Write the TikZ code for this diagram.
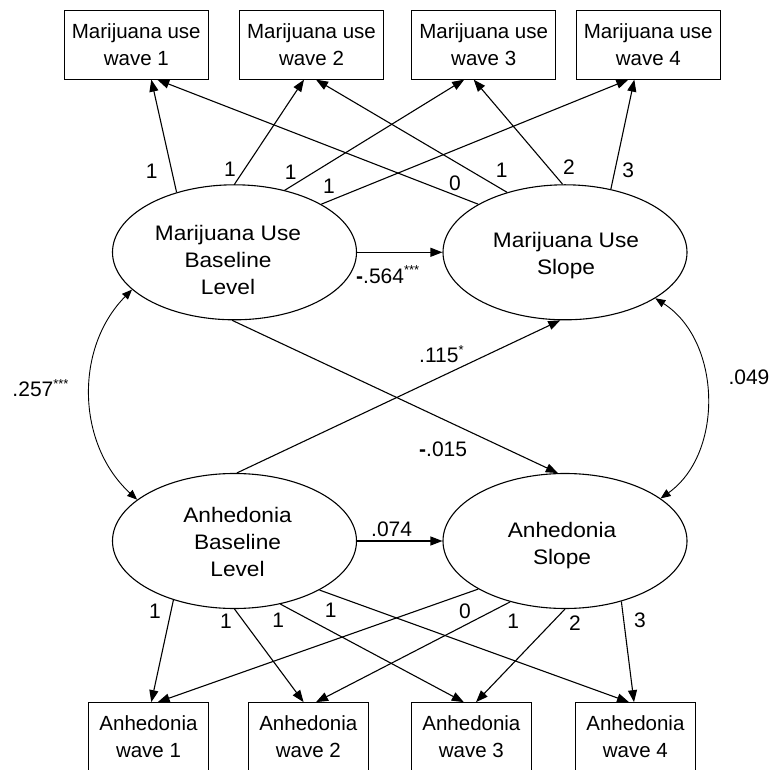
\documentclass[tikz,border=0pt]{standalone}
\usepackage{fontspec}
\setmainfont{Liberation Sans}
\newfontfamily\ellfont[FakeStretch=1.08]{Liberation Sans}
\usetikzlibrary{shapes.geometric,arrows.meta,calc}
\newcommand\sig[1]{\raisebox{8.5pt}{\fontsize{13}{13}\selectfont #1}}
\begin{document}
\begin{tikzpicture}[x=1pt,y=1pt,
  obs/.style={draw,line width=1.1pt,minimum width=144pt,minimum height=69pt,inner sep=0pt,align=center,font=\fontsize{20.5}{27}\selectfont},
  obsb/.style={obs,minimum width=119.5pt,minimum height=68.3pt},
  lat/.style={draw,ellipse,line width=1.1pt,minimum width=244pt,minimum height=135pt,inner sep=0pt},
  lattxt/.style={align=center,inner sep=0pt,font=\ellfont\fontsize{21}{27}\selectfont},
  arr/.style={line width=1.1pt,-{Triangle[length=12pt,width=9pt]}},
  cov/.style={line width=0.9pt,{Triangle[length=10pt,width=8pt]}-{Triangle[length=10pt,width=8pt]}},
  lbl/.style={inner sep=0pt,font=\fontsize{21}{21}\selectfont}]
\useasboundingbox (0,0) rectangle (774,769);
\clip (0,0) rectangle (774,769);

% observed: marijuana
\node[obs] (b1) at (136.3,724.4) {Marijuana use\\wave 1};
\node[obs] (b2) at (311.5,724.4) {Marijuana use\\wave 2};
\node[obs] (b3) at (483.7,724.4) {Marijuana use\\wave 3};
\node[obs] (b4) at (648.3,724.4) {Marijuana use\\wave 4};

% latent
\node[lat] (mi) at (234.5,516.7) {};
\node[lat] (ms) at (565,516.7) {};
\node[lat] (ai) at (234.5,228) {};
\node[lat] (as) at (565,228) {};
\node[lattxt] (mit) at (228,509) {Marijuana Use\\Baseline\\Level};
\node[lattxt] (mst) at (566,513) {Marijuana Use\\Slope};
\node[lattxt] (ait) at (237.5,226.8) {Anhedonia\\Baseline\\Level};
\node[lattxt] (ast) at (562,223) {Anhedonia\\Slope};

% observed: anhedonia
\node[obsb] (c1) at (148.5,32.15) {Anhedonia\\wave 1};
\node[obsb] (c2) at (308.3,32.15) {Anhedonia\\wave 2};
\node[obsb] (c3) at (471.4,32.15) {Anhedonia\\wave 3};
\node[obsb] (c4) at (635.4,32.15) {Anhedonia\\wave 4};

% top loadings
\draw[arr] (mi.134.2) -- ($(b1.south)+(15,0)$);
\draw[arr] (mi.90) -- ($(b2.south)+(-7.5,0)$);
\draw[arr] (mi.51.6) -- ($(b3.south)+(-19.5,0)$);
\draw[arr] (mi.29.9) -- ($(b4.south)+(-20,0)$);
\draw[arr] (ms.151.5) -- ($(b1.south)+(21,0)$);
\draw[arr] (ms.134) -- ($(b2.south)+(4.5,0)$);
\draw[arr] (ms.92) -- ($(b3.south)+(-10,0)$);
\draw[arr] (ms.54.6) -- ($(b4.south)+(-14,0)$);

\node[lbl] (t1) at (151.7,597.3) {1};
\node[lbl] (t2) at (230,599.7) {1};
\node[lbl] (t3) at (290.7,596.7) {1};
\node[lbl] (t4) at (329,582.3) {1};
\node[lbl] (t5) at (455,585.7) {0};
\node[lbl] (t6) at (501.7,598.3) {1};
\node[lbl] (t7) at (569,602.3) {2};
\node[lbl] (t8) at (628.3,599) {3};

% bottom loadings
\draw[arr] (ai.224.8) -- ($(c1.north)+(2.8,0)$);
\draw[arr] (ai.270) -- ($(c2.north)+(-4.7,0)$);
\draw[arr] (ai.306.8) -- ($(c3.north)+(-7.6,0)$);
\draw[arr] (ai.330.2) -- ($(c4.north)+(-6.4,0)$);
\draw[arr] (as.209) -- ($(c1.north)+(9.2,0)$);
\draw[arr] (as.228) -- ($(c2.north)+(7.7,0)$);
\draw[arr] (as.270) -- ($(c3.north)+(4.6,0)$);
\draw[arr] (as.313) -- ($(c4.north)+(-1.4,0)$);

\node[lbl] (u1) at (155,157.3) {1};
\node[lbl] (u2) at (226,147.3) {1};
\node[lbl] (u3) at (278.3,149) {1};
\node[lbl] (u4) at (330.7,159) {1};
\node[lbl] (u5) at (465,158) {0};
\node[lbl] (u6) at (513.3,148) {1};
\node[lbl] (u7) at (575,145.7) {2};
\node[lbl] (u8) at (640,149) {3};

% structural paths
\draw[arr] (mi.east) -- (ms.west);
\draw[arr] (ai.east) -- (as.west);
\draw[arr] (mi.268) -- (as.96);
\draw[arr] (ai.88) -- (ms.266);

\node[lbl,anchor=base west] (p1) at (356,485.7) {\textbf{-}.564\sig{***}};
\node[lbl,anchor=base west] (p2) at (371,232.3) {.074};
\node[lbl,anchor=base west] (p3) at (419,406.3) {.115\sig{*}};
\node[lbl,anchor=base west] (p4) at (419,312.3) {\textbf{-}.015};

% covariances
\draw[cov] (mi.200.3) to[bend right=46] (ai.157.3);
\draw[cov] (ms.333.6) to[bend left=56] (as.24);
\node[lbl,anchor=base west] (k1) at (12.3,372.3) {.257\sig{***}};
\node[lbl,anchor=base west] (k2) at (728.3,384) {.049};
\end{tikzpicture}
\end{document}
